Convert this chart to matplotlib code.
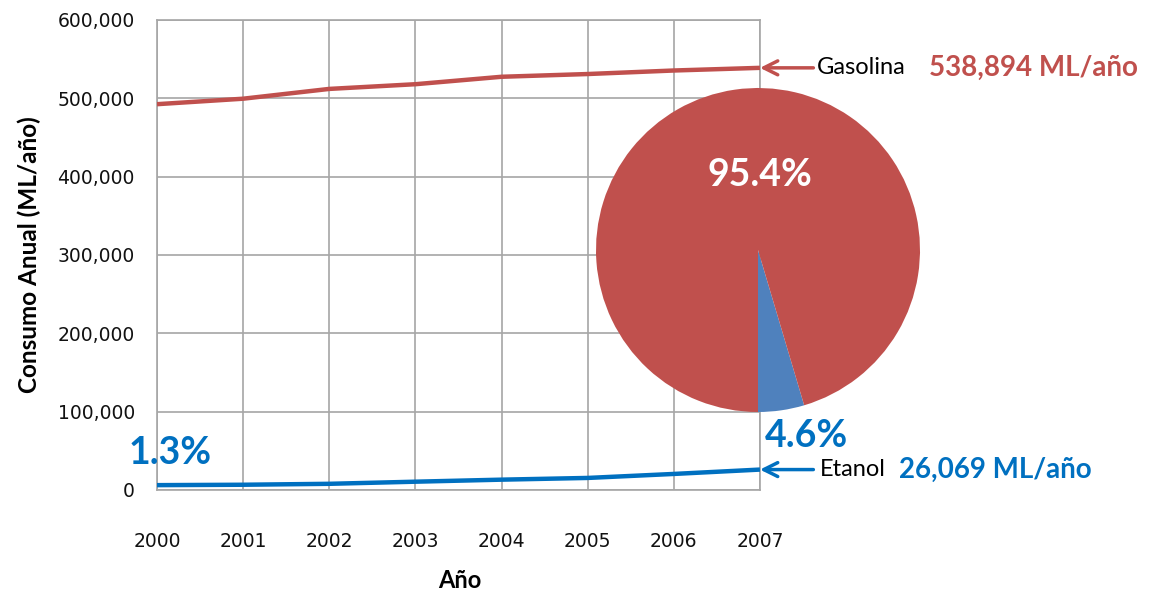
import numpy as np
import matplotlib
matplotlib.use('Agg')
import matplotlib.pyplot as plt

# data (ML/año)
years = [2000, 2001, 2002, 2003, 2004, 2005, 2006, 2007]
gasolina = [492500, 499500, 512000, 518000, 527500, 531000, 535500, 538894]
etanol = [6200, 6700, 7900, 10600, 13200, 15400, 20500, 26069]
pie_labels = ['Etanol', 'Gasolina']
pie_share = [4.6, 95.4]
share_2000 = '1.3%'

red = '#C0504D'
blue = '#0070C0'
pie_blue = '#4F81BD'
grid_c = '#A6A6A6'
txt_font = ['Lato', 'DejaVu Sans']

fig = plt.figure(figsize=(11.56, 5.91), dpi=100)
ax = fig.add_axes([0.1358, 0.1709, 0.5216, 0.7953])

ax.plot(years, gasolina, color=red, lw=3.2, solid_capstyle='butt', zorder=3)
ax.plot(years, etanol, color=blue, lw=3.2, solid_capstyle='butt', zorder=3)

ax.set_xlim(2000, 2007)
ax.set_ylim(0, 600000)
ax.set_xticks(years)
ax.set_yticks(np.arange(0, 600001, 100000))
ax.set_yticklabels(['0'] + ['{:,}'.format(v) for v in range(100000, 600001, 100000)])
ax.grid(True, color=grid_c, lw=1.2)
ax.set_axisbelow(True)
for s in ax.spines.values():
    s.set_color(grid_c)
    s.set_linewidth(1.2)
ax.tick_params(length=0, labelsize=13.5, colors='#111111')
ax.tick_params(axis='y', pad=16)
ax.tick_params(axis='x', pad=30)

ax.set_ylabel('Consumo Anual (ML/año)', fontsize=17.5, fontweight='bold',
              family=txt_font, labelpad=12)
fig.text(460 / 1156, (591 - 580) / 591, 'Año', fontsize=17, fontweight='bold',
         family=txt_font, ha='center', va='center')

# arrows and labels at 2007
for vals, col, name, val_txt, xname, xval in [
        (gasolina, red, 'Gasolina', '538,894 ML/año', 2007.66, 2008.96),
        (etanol, blue, 'Etanol', '26,069 ML/año', 2007.69, 2008.61)]:
    ax.annotate('', xy=(2007, vals[-1]), xytext=(2007.62, vals[-1]),
                arrowprops=dict(arrowstyle='->,head_length=1.0,head_width=0.5',
                                color=col, lw=2.5, shrinkA=0, shrinkB=0),
                annotation_clip=False)
    ax.text(xname, vals[-1], name, fontsize=17, family=txt_font, color='black',
            va='center', ha='left', clip_on=False)
    ax.text(xval, vals[-1], val_txt, fontsize=20, fontweight='bold', family=txt_font,
            color=col, va='center', ha='left', clip_on=False)

ax.text(2000.15, 47000, share_2000, fontsize=27, fontweight='bold', family=txt_font,
        color=blue, ha='center', va='center', clip_on=False)

# pie on top
pax = fig.add_axes([(758 - 162) / 1156, (591 - 412) / 591, 324 / 1156, 324 / 591])
pax.pie(pie_share, colors=[pie_blue, red], startangle=270, counterclock=True,
        radius=1.0, wedgeprops=dict(linewidth=0))
pax.set_xlim(-1, 1)
pax.set_ylim(-1, 1)
pax.set_aspect('equal')
pax.axis('off')
pax.text(0.01, 0.46, '{:.1f}%'.format(pie_share[1]), fontsize=27, fontweight='bold',
         family=txt_font, color='white', ha='center', va='center')
pax.text(0.04, -1.15, '{:.1f}%'.format(pie_share[0]), fontsize=27, fontweight='bold',
         family=txt_font, color=blue, ha='left', va='center', clip_on=False)

fig.savefig('out.png', dpi=100)
